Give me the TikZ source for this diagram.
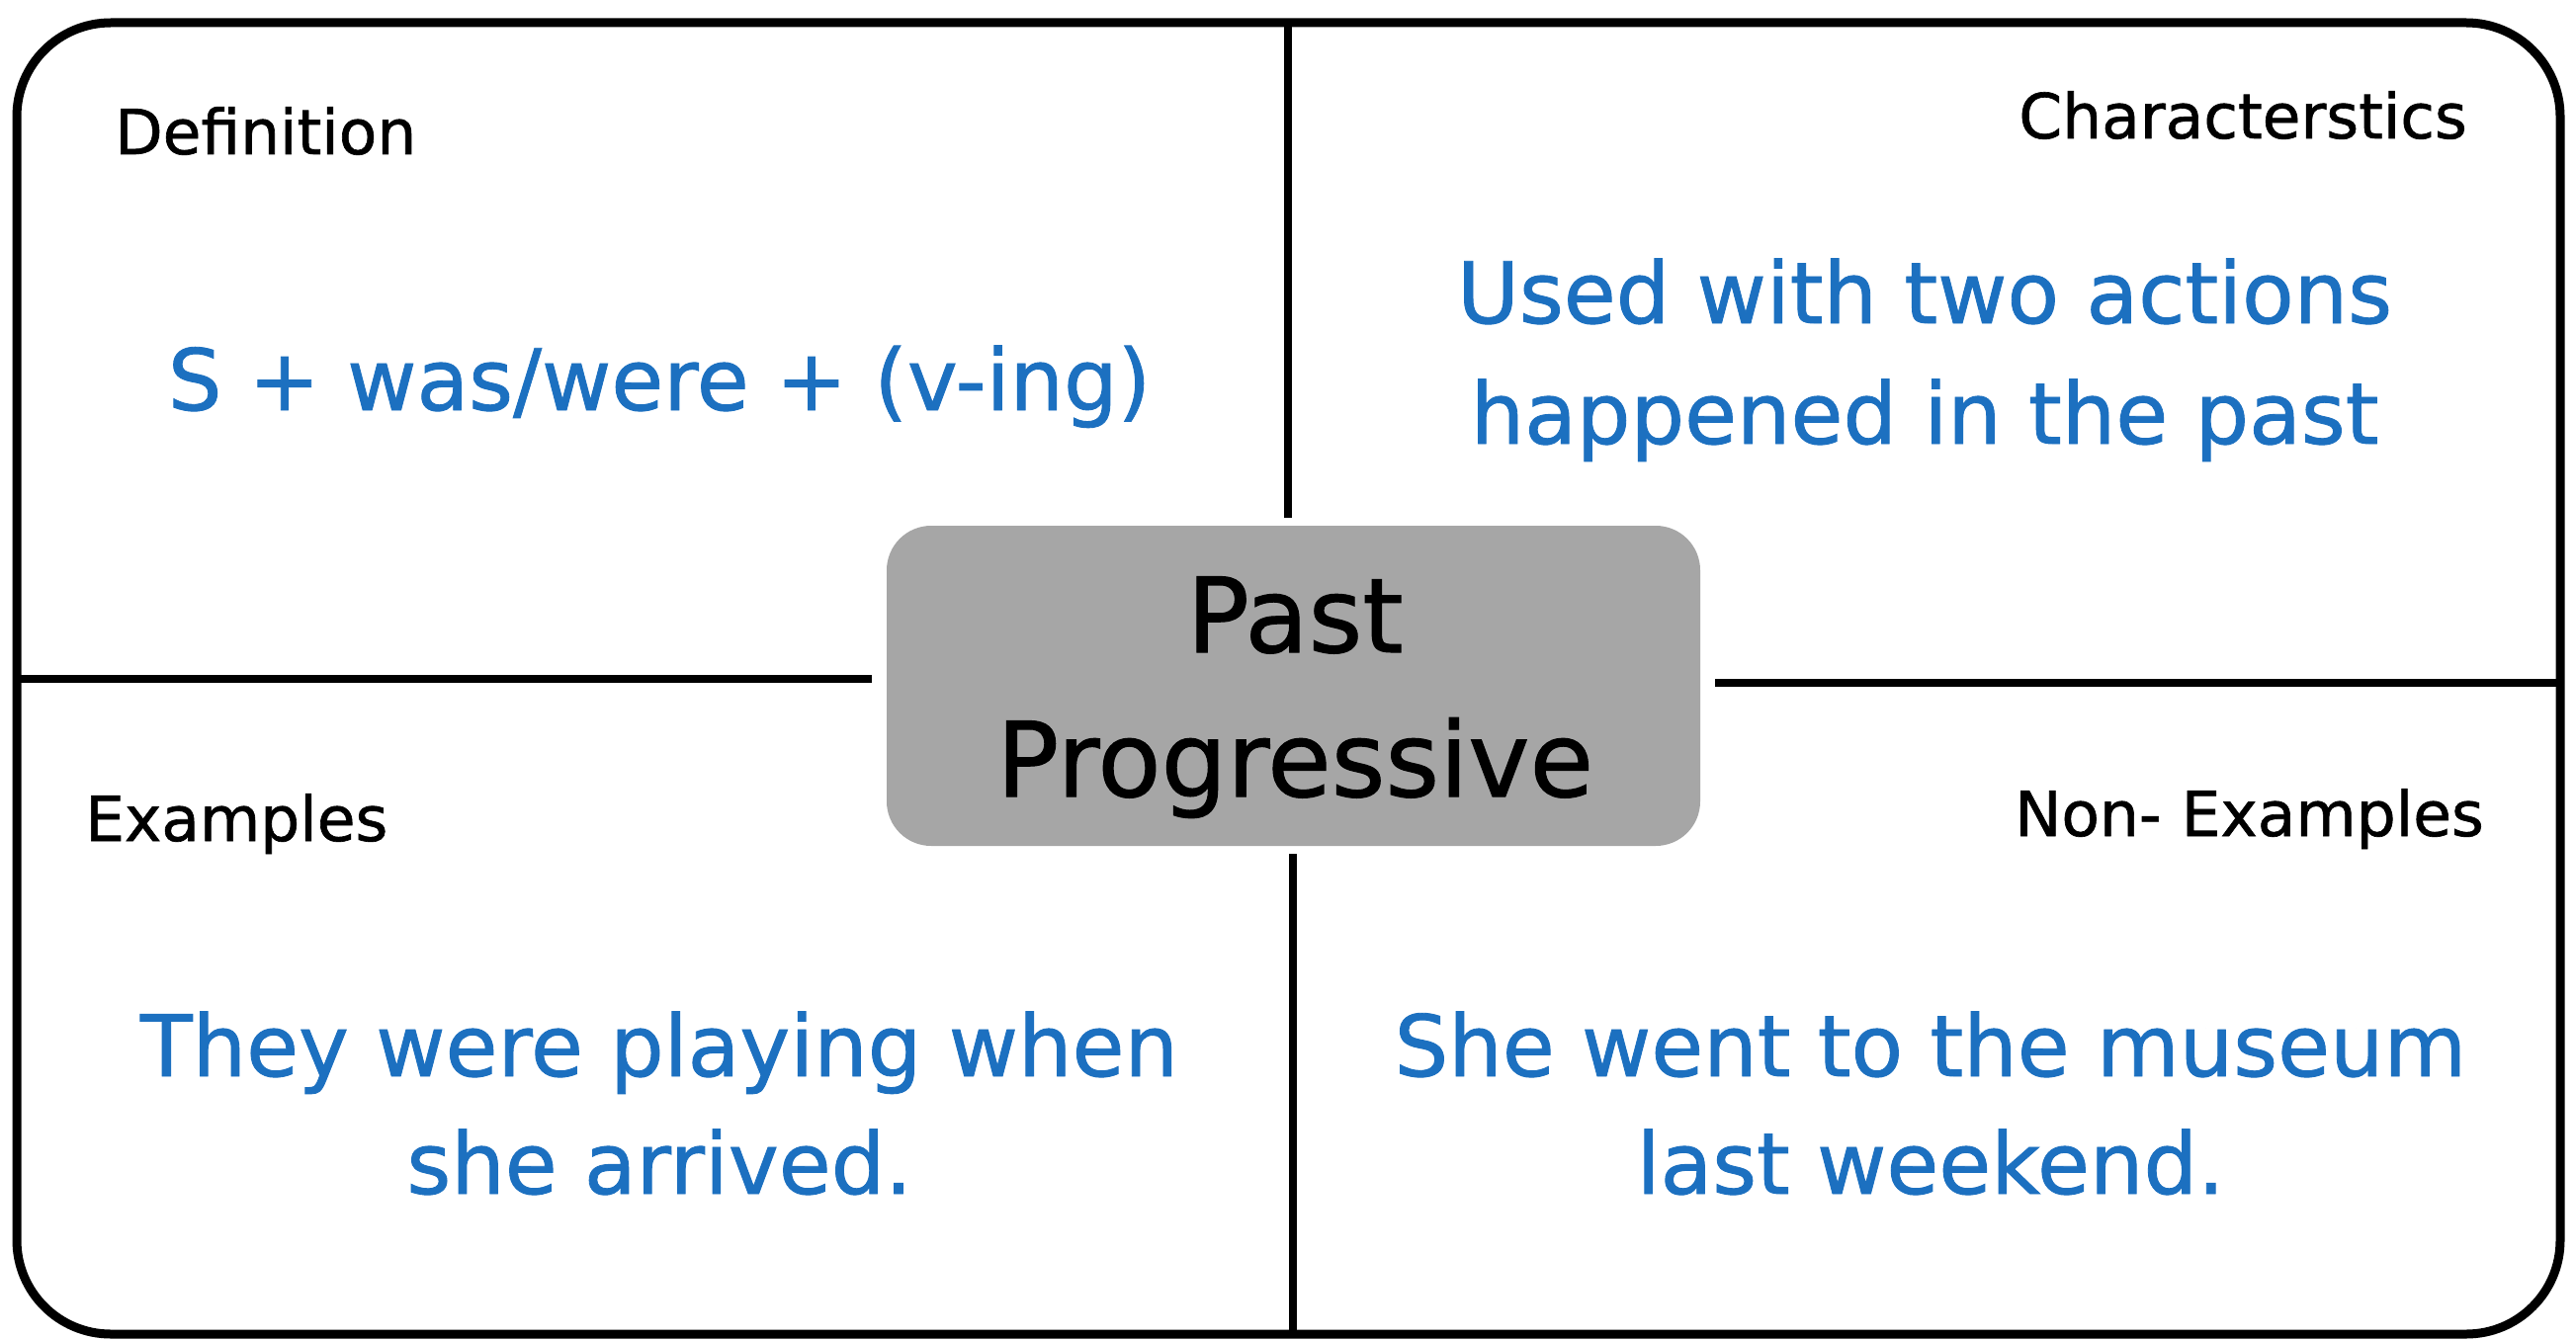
\documentclass[tikz,border=0pt]{standalone}
\usepackage{fontspec}
\setmainfont{DejaVu Sans}
\newfontfamily\heavyfont{DejaVu Sans}[FakeBold=1]
\definecolor{txtblue}{RGB}{28,112,192}
\definecolor{coregray}{RGB}{166,166,166}
\begin{document}
\begin{tikzpicture}[x=1pt,y=-1pt,
  lbl/.style={font=\heavyfont\fontsize{63}{75}\selectfont, inner sep=0pt},
  bluetxt/.style={font=\heavyfont\fontsize{86}{100}\selectfont, text=txtblue, inner sep=0pt, anchor=base},
  titletxt/.style={font=\heavyfont\fontsize{105}{120}\selectfont, inner sep=0pt, anchor=base},
  frameline/.style={line width=9pt},
  divider/.style={line width=8pt}]
\useasboundingbox (0,0) rectangle (2606,1356);
\fill[white] (0,0) rectangle (2606,1356);
% outer frame
\draw[frameline, rounded corners=95pt] (17,23) rectangle (2590,1350);
% center box
\node[fill=coregray, rounded corners=45pt, minimum width=823pt, minimum height=324pt, inner sep=0pt] (core) at (1308.5,694) {};
% divider end points
\coordinate (vt1) at (1303,23);
\coordinate (vt2) at (1303,524);
\coordinate (vb1) at (1308,864);
\coordinate (vb2) at (1308,1350);
\coordinate (hl1) at (17,687);
\coordinate (hl2) at (882,687);
\coordinate (hr1) at (1735,691);
\coordinate (hr2) at (2590,691);
\draw[divider] (vt1) -- (vt2);
\draw[divider] (vb1) -- (vb2);
\draw[divider] (hl1) -- (hl2);
\draw[divider] (hr1) -- (hr2);
% labels
\node[lbl, anchor=base west] (defn) at (116,156) {Definition};
\node[lbl, anchor=base east] (charac) at (2496,140) {Characterstics};
\node[lbl, anchor=base west] (exa) at (86,851) {Examples};
\node[lbl, anchor=base east] (nonexa) at (2513,846) {Non- Examples};
% blue contents
\node[bluetxt] (formula) at (667,415) {S + was/were + (v-ing)};
\node[bluetxt] (char1) at (1947,327) {Used with two actions};
\node[bluetxt] (char2) at (1947,449) {happened in the past};
\node[bluetxt] (ex1) at (667,1089) {They were playing when};
\node[bluetxt] (ex2) at (667,1208) {she arrived.};
\node[bluetxt] (nex1) at (1953,1089) {She went to the museum};
\node[bluetxt] (nex2) at (1953,1208) {last weekend.};
% title
\node[titletxt] (past) at (1310,660) {Past};
\node[titletxt] (prog) at (1310,806) {Progressive};
\end{tikzpicture}
\end{document}
